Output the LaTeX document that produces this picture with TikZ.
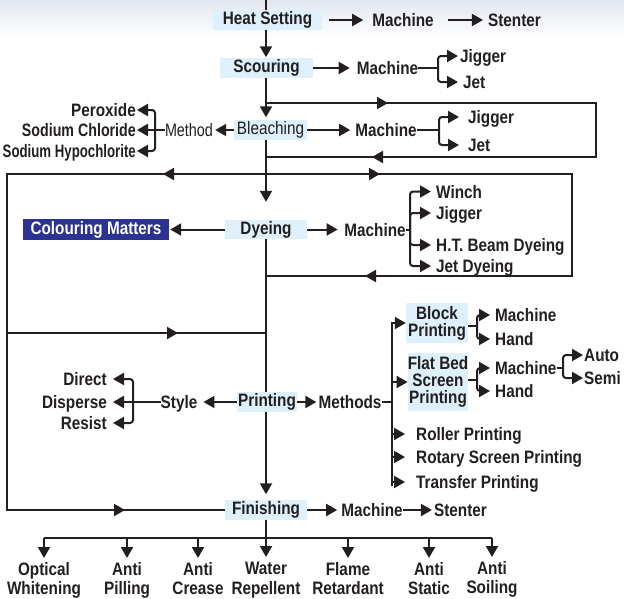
\documentclass[tikz,border=0pt]{standalone}
\usepackage{fontspec}
\usepackage{graphicx}
\newfontfamily\labfont{Liberation Sans}[FakeStretch=0.85]
\usetikzlibrary{arrows.meta,decorations.markings}
\definecolor{ink}{RGB}{35,31,32}
\definecolor{boxblue}{RGB}{222,240,251}
\definecolor{navy}{RGB}{44,50,145}
\definecolor{topgrey}{RGB}{226,231,240}
\begin{document}
\begin{tikzpicture}[x=1pt,y=-1pt,color=ink,
  >={Triangle[length=11pt,width=12pt]},
  lab/.style={font=\labfont\bfseries\fontsize{18}{18}\selectfont, text=ink, inner sep=0pt, text height=13pt, text depth=0pt},
  regfont/.style={font=\labfont\mdseries\fontsize{18}{18}\selectfont},
  box/.style={lab, fill=boxblue, text depth=3.5pt, inner ysep=1.3pt, minimum width=#1},
  mbox/.style 2 args={font=\labfont\bfseries\fontsize{18}{17}\selectfont, text=ink, fill=boxblue, align=center, inner sep=0pt, minimum width=#1, minimum height=#2},
  blab/.style={font=\labfont\bfseries\fontsize{18}{19.5}\selectfont, text=ink, align=center, inner sep=0pt, anchor=north},
  line/.style={draw=ink, line width=2pt},
  arr/.style={line, ->},
  barr/.style={line, ->, rounded corners=3pt},
  arrowat/.style={postaction={decorate, decoration={markings, mark=at position #1 with {\arrow{>}}}}}
]
\useasboundingbox (0,0) rectangle (624,598);
\fill[top color=topgrey, bottom color=white] (0,0) rectangle (624,38);

% ---------- nodes ----------
\coordinate (top) at (266,0);
\node[box=109] (heat) at (267.5,20) {Heat Setting};
\node[lab] (mach1) at (403,20) {Machine};
\node[lab] (sten1) at (514.5,20) {Stenter};

\node[box=93] (scour) at (266.5,68) {Scouring};
\node[lab] (mach2) at (387.5,68) {Machine};
\coordinate (b2) at (438,68);
\node[lab, anchor=west] (jig2) at (460,56) {Jigger};
\node[lab, anchor=west] (jet2) at (463,82) {Jet};

\node[box=73, regfont] (bleach) at (270.5,130) {Bleaching};
\node[lab] (mach3) at (386,130) {Machine};
\coordinate (b3) at (439,130);
\node[lab, anchor=west] (jig3) at (468,117) {Jigger};
\node[lab, anchor=west] (jet3) at (468,145) {Jet};
\node[lab, regfont] (method) at (189,130) {\scalebox{0.94}[1]{Method}};
\coordinate (bm) at (155,130);
\node[lab, anchor=east] (perox) at (136,110) {Peroxide};
\node[lab, anchor=east] (sodc) at (136,130) {\scalebox{0.93}[1]{Sodium Chloride}};
\node[lab, anchor=east] (sodh) at (136,151) {\scalebox{0.865}[1]{Sodium Hypochlorite}};

\node[box=82] (dye) at (266,229.5) {Dyeing};
\node[box=146, fill=navy, text=white, inner ysep=2.3pt] (cm) at (96,229.5) {Colouring Matters};
\node[lab] (mach4) at (375,229.5) {Machine};
\coordinate (b4) at (410,229.5);
\node[lab, anchor=west] (winch) at (436,191.5) {Winch};
\node[lab, anchor=west] (jig4) at (436,213) {Jigger};
\node[lab, anchor=west] (ht) at (436,245) {H.T. Beam Dyeing};
\node[lab, anchor=west] (jetd) at (436,266) {Jet Dyeing};

\node[box=60] (print) at (267,402) {Printing};
\node[lab] (style) at (179,402) {Style};
\coordinate (bs) at (133,402);
\node[lab, anchor=east] (direct) at (107,379) {Direct};
\node[lab, anchor=east] (disperse) at (107,402) {Disperse};
\node[lab, anchor=east] (resist) at (107,423) {Resist};
\node[lab] (methods) at (350,402) {Methods};
\coordinate (bmv) at (392,402);
\coordinate (mv1) at (392,322);
\coordinate (mv2) at (392,486);
\node[mbox={62}{40}] (blk) at (437,323) {Block\\Printing};
\node[mbox={60}{58}] (fbs) at (438,382) {Flat Bed\\Screen\\Printing};
\node[lab, anchor=west] (roller) at (416,434) {Roller Printing};
\node[lab, anchor=west] (rotary) at (416,457) {Rotary Screen Printing};
\node[lab, anchor=west] (transfer) at (416,482) {Transfer Printing};
\coordinate (bb1) at (477,326);
\node[lab, anchor=west] (bm1) at (495,315) {Machine};
\node[lab, anchor=west] (bh1) at (495,339) {Hand};
\coordinate (bb2) at (477,380);
\node[lab, anchor=west] (fm) at (495,368) {Machine};
\node[lab, anchor=west] (fh) at (495,391) {Hand};
\coordinate (bb3) at (563,368);
\node[lab, anchor=west] (auto) at (584,355) {Auto};
\node[lab, anchor=west] (semi) at (584,378) {Semi};

\node[box=82] (fin) at (266,510) {Finishing};
\node[lab] (mach5) at (372,510) {Machine};
\node[lab] (sten5) at (460.5,510) {Stenter};

\coordinate (busl) at (0,538);
\node[blab] (ow) at (44,562) {Optical\\Whitening};
\node[blab] (ap) at (127,562) {Anti\\Pilling};
\node[blab] (ac) at (198,562) {Anti\\Crease};
\node[blab] (wr) at (266,562) {Water\\Repellent};
\node[blab] (fr) at (348,562) {Flame\\Retardant};
\node[blab] (ast) at (429,562) {Anti\\Static};
\node[blab] (aso) at (492,561) {Anti\\Soiling};

% ---------- loops ----------
\coordinate (l1a) at (266,103); \coordinate (l1b) at (596,103);
\coordinate (l1c) at (596,157); \coordinate (l1d) at (266,157);
\draw[line, arrowat=122pt, arrowat=608pt] (l1a) -- (l1b) -- (l1c) -- (l1d);
\coordinate (l2a) at (266,174); \coordinate (l2b) at (572,174);
\coordinate (l2c) at (572,276); \coordinate (l2d) at (266,276);
\draw[line, arrowat=114pt, arrowat=615pt] (l2a) -- (l2b) -- (l2c) -- (l2d);
\coordinate (l3b) at (7,174); \coordinate (l3c) at (7,510);
\draw[line, arrowat=103pt, arrowat=713pt] (l2a) -- (l3b) -- (l3c) -- (fin.west);
\coordinate (l3m) at (7,333); \coordinate (l3n) at (266,333);
\draw[line, arrowat=171pt] (l3m) -- (l3n);

% ---------- main line ----------
\draw[line] (top) -- (heat.north -| top);
\draw[arr, shorten >=1pt] (heat.south -| top) -- (scour.north -| top);
\draw[arr, shorten >=3pt] (scour.south -| top) -- (bleach.north -| top);
\draw[arr, shorten >=18pt] (bleach.south -| top) -- (dye.north -| top);
\draw[line] (dye.south -| top) -- (print.north -| top);
\draw[arr, shorten >=6pt] (print.south -| top) -- (fin.north -| top);
\draw[arr, shorten >=5pt] (fin.south -| top) -- (wr);

% ---------- row connectors ----------
\draw[arr, shorten <=7pt, shorten >=9pt] (heat) -- (mach1);
\draw[arr, shorten <=14pt, shorten >=5pt] (mach1) -- (sten1);

\draw[arr, shorten >=7pt] (scour) -- (mach2);
\draw[line] (mach2) -- (b2);
\draw[barr, shorten >=2pt] (b2) |- (jig2);
\draw[barr, shorten >=5pt] (b2) |- (jet2);

\draw[arr, shorten >=5pt] (bleach) -- (mach3);
\draw[line] (mach3) -- (b3);
\draw[barr, shorten >=9pt] (b3) |- (jig3);
\draw[barr, shorten >=9pt] (b3) |- (jet3);
\draw[arr, shorten >=2pt] (bleach) -- (method);
\draw[line] (method) -- (bm);
\draw[barr, shorten >=1pt] (bm) |- (perox);
\draw[arr, shorten >=1pt] (bm) -- (sodc);
\draw[barr, shorten >=1pt] (bm) |- (sodh);

\draw[arr, shorten >=1pt] (dye) -- (cm);
\draw[arr, shorten >=6.5pt] (dye) -- (mach4);
\draw[line] (mach4) -- (b4);
\draw[barr, shorten >=5pt] (b4) |- (winch);
\draw[barr, shorten >=5pt] (b4) |- (jig4);
\draw[barr, shorten >=5pt] (b4) |- (ht);
\draw[barr, shorten >=5pt] (b4) |- (jetd);

\draw[arr, shorten >=6pt] (print) -- (style);
\draw[line] (style) -- (bs);
\draw[barr, shorten >=6pt] (bs) |- (direct);
\draw[arr, shorten >=6pt] (bs) -- (disperse);
\draw[barr, shorten >=6pt] (bs) |- (resist);
\draw[arr, shorten >=2pt] (print) -- (methods);
\draw[line] (methods) -- (bmv);
\draw[line] (mv1) -- (mv2);
\draw[arr] (mv1 |- blk) -- (blk.west);
\draw[arr] (mv1 |- fbs) -- (fbs.west);
\draw[arr, shorten >=11pt] (mv1 |- roller) -- (roller);
\draw[arr, shorten >=11pt] (mv1 |- rotary) -- (rotary);
\draw[arr, shorten >=11pt] (mv1 |- transfer) -- (transfer);
\draw[line] (blk.east |- bb1) -- (bb1);
\draw[barr, shorten >=5pt] (bb1) |- (bm1);
\draw[barr, shorten >=5pt] (bb1) |- (bh1);
\draw[line] (fbs.east |- bb2) -- (bb2);
\draw[barr, shorten >=5pt] (bb2) |- (fm);
\draw[barr, shorten >=5pt] (bb2) |- (fh);
\draw[line] (fm) -- (bb3);
\draw[barr, shorten >=1pt] (bb3) |- (auto);
\draw[barr, shorten >=1pt] (bb3) |- (semi);

\draw[arr, shorten >=4pt] (fin) -- (mach5);
\draw[arr, shorten >=2pt] (mach5) -- (sten5);

% ---------- bottom bus ----------
\draw[line] (ow |- busl) -- (aso |- busl);
\foreach \n in {ow,ap,ac,fr,ast,aso}{
  \draw[arr, shorten >=4pt] (\n |- busl) -- (\n);
}
\end{tikzpicture}
\end{document}
